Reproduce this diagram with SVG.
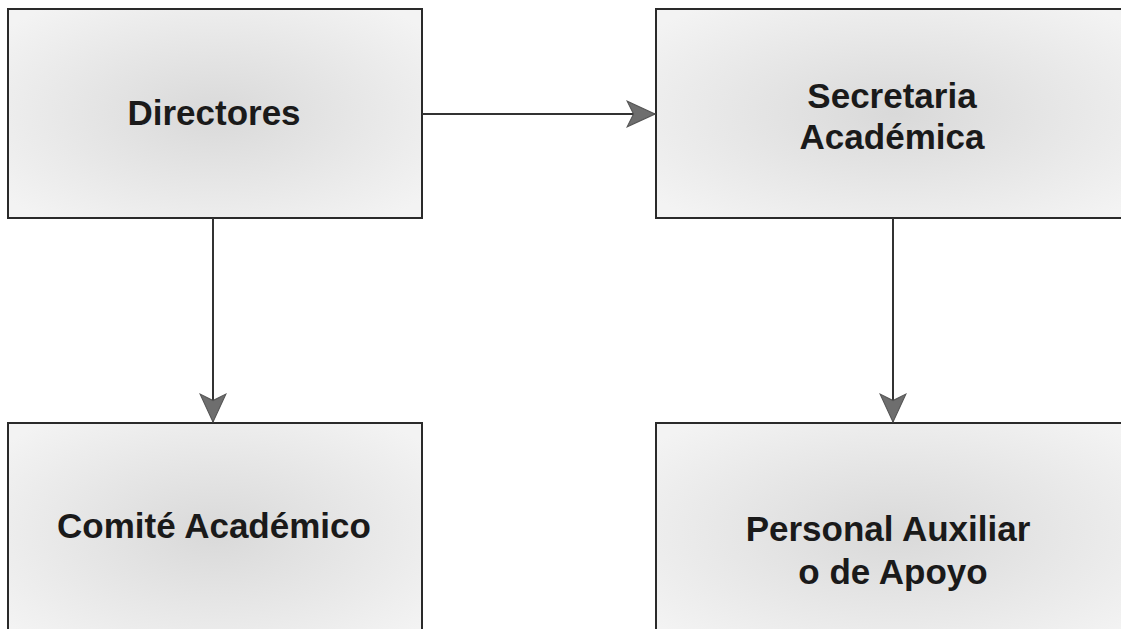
<svg xmlns="http://www.w3.org/2000/svg" width="1121" height="629" viewBox="0 0 1121 629">
<defs>
<radialGradient id="g" cx="50%" cy="50%" r="65%">
<stop offset="0" stop-color="#d9d9d9"/>
<stop offset="1" stop-color="#f3f3f3"/>
</radialGradient>
<marker id="ah" markerUnits="userSpaceOnUse" markerWidth="30" markerHeight="30" viewBox="-27 -13 28 26" refX="0" refY="0" orient="auto">
<path d="M0,0 L-26,-12 L-20,0 L-26,12 Z" fill="#6e6e6e" stroke="#555" stroke-width="1"/>
</marker>
<style>
.box{fill:url(#g);stroke:#2a2a2a;stroke-width:2}
.t{font-family:"Liberation Sans",Arial,sans-serif;font-weight:bold;font-size:35px;fill:#1a1a1a;text-anchor:middle}
.c{stroke:#333;stroke-width:2;fill:none}
</style>
</defs>
<rect width="1121" height="629" fill="#ffffff"/>
<g id="directores">
<rect class="box" x="8" y="9" width="414" height="209"/>
<text class="t" x="214" y="125">Directores</text>
</g>
<g id="secretaria">
<rect class="box" x="656" y="9" width="480" height="209"/>
<text class="t" x="892" y="108">Secretaria</text>
<text class="t" x="892" y="149">Académica</text>
</g>
<g id="comite">
<rect class="box" x="8" y="423" width="414" height="220"/>
<text class="t" x="214" y="538">Comité Académico</text>
</g>
<g id="personal">
<rect class="box" x="656" y="423" width="480" height="220"/>
<text class="t" x="888" y="541">Personal Auxiliar</text>
<text class="t" x="893" y="584">o de Apoyo</text>
</g>
<g id="connectors">
<line class="c" x1="422" y1="114" x2="655" y2="114" marker-end="url(#ah)"/>
<line class="c" x1="213" y1="218" x2="213" y2="422" marker-end="url(#ah)"/>
<line class="c" x1="893" y1="218" x2="893" y2="422" marker-end="url(#ah)"/>
</g>
</svg>
